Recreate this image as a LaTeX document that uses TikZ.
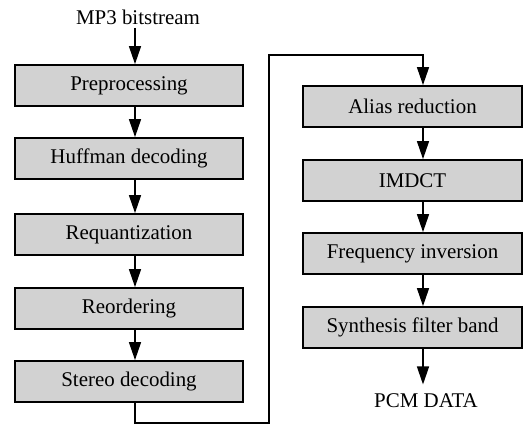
\documentclass[tikz,border=0pt]{standalone}
\usepackage{fontspec}
\setmainfont{Liberation Serif}
\usetikzlibrary{arrows.meta}
\tikzset{
  stage/.style={draw, line width=1.8bp, fill=gray!35, minimum height=41bp, inner sep=0pt, font=\fontsize{21}{24}\selectfont},
  lstage/.style={stage, minimum width=228bp},
  rstage/.style={stage, minimum width=219bp},
  lbl/.style={font=\fontsize{21}{24}\selectfont},
  arr/.style={-{Triangle[length=18bp,width=12bp]}, line width=1.4bp},
  wire/.style={line width=1.4bp}
}
\begin{document}
\begin{tikzpicture}[x=1bp, y=-1bp]
    \useasboundingbox (0,0) rectangle (525,425);
    % left column
    \node[lbl] (in) at (138,17) {MP3 bitstream};
    \node[lstage] (pre) at (129,85.5) {Preprocessing};
    \node[lstage] (huf) at (129,158.5) {Huffman decoding};
    \node[lstage] (req) at (129,234.5) {Requantization};
    \node[lstage] (reo) at (129,308.5) {Reordering};
    \node[lstage] (ste) at (129,381.5) {Stereo decoding};
    % right column
    \node[rstage] (ali) at (412.5,106.5) {Alias reduction};
    \node[rstage] (imd) at (412.5,180.5) {IMDCT};
    \node[rstage] (fre) at (412.5,253.5) {Frequency inversion};
    \node[rstage] (syn) at (412.5,327.5) {Synthesis filter band};
    \node[lbl] (out) at (426,401) {PCM DATA};
    \coordinate (lcol) at (135,0);
    \coordinate (rcol) at (423,0);
    \draw[arr] (in.south -| lcol) -- (pre.north -| lcol);
    \draw[arr] (pre.south -| lcol) -- (huf.north -| lcol);
    \draw[arr] (huf.south -| lcol) -- (req.north -| lcol);
    \draw[arr] (req.south -| lcol) -- (reo.north -| lcol);
    \draw[arr] (reo.south -| lcol) -- (ste.north -| lcol);
    % crossover
    \coordinate (lo) at (269,423);
    \coordinate (hi) at (269,55);
    \draw[arr] (ste.south -| lcol) |- (lo) -- (hi) -| (ali.north -| rcol);
    \draw[arr] (ali.south -| rcol) -- (imd.north -| rcol);
    \draw[arr] (imd.south -| rcol) -- (fre.north -| rcol);
    \draw[arr] (fre.south -| rcol) -- (syn.north -| rcol);
    \draw[arr] (syn.south -| rcol) -- ([yshift=6bp]out.north -| rcol);
\end{tikzpicture}
\end{document}
